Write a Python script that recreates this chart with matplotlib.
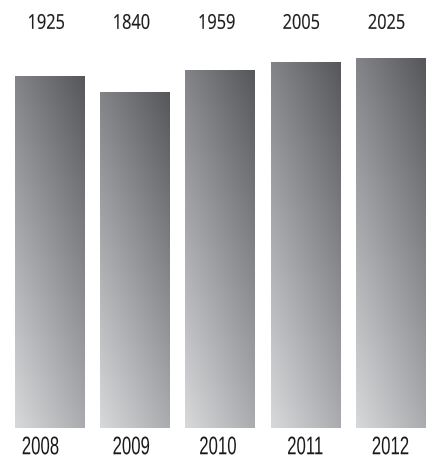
import numpy as np
import matplotlib
matplotlib.use("Agg")
from matplotlib import pyplot as plt
from matplotlib.textpath import TextPath
from matplotlib.patches import PathPatch
from matplotlib.font_manager import FontProperties
from matplotlib.transforms import Affine2D

years = ["2008", "2009", "2010", "2011", "2012"]
values = [1925, 1840, 1959, 2005, 2025]

light = np.array([216, 217, 219]) / 255.0
dark = np.array([86, 87, 91]) / 255.0

W, H = 433, 462
fig = plt.figure(figsize=(W / 100, H / 100), dpi=100)
ax = fig.add_axes([6.9 / W, 34 / H, 426.2 / W, 428 / H])
ax.set_xlim(-0.5, 4.5)
ax.set_ylim(0, 428 / 0.1825)
ax.axis("off")

# diagonal gradient: light bottom-left, dark top-right
n = 200
u = np.linspace(0, 1, n)[None, :]
v = np.linspace(0, 1, n)[:, None]
s = 0.35 * u + 0.65 * v
grad = light + (dark - light) * s[..., None]

width = 0.81
for i, val in enumerate(values):
    ax.imshow(grad, extent=[i - width / 2, i + width / 2, 0, val],
              origin="lower", aspect="auto", interpolation="bilinear", zorder=2)
ax.set_xlim(-0.5, 4.5)
ax.set_ylim(0, 428 / 0.1825)

# overlay in pixel units for condensed labels
ov = fig.add_axes([0, 0, 1, 1])
ov.set_xlim(0, W)
ov.set_ylim(0, H)
ov.axis("off")
ov.patch.set_alpha(0)


def label(text, xc, yc, h, sx, family, lw=0):
    prop = FontProperties(family=family)
    ref = TextPath((0, 0), "0123456789", size=100, prop=prop).get_extents()
    size = 100 * h / ref.height
    p = TextPath((0, 0), text, size=size, prop=prop)
    e = p.get_extents()
    tr = (Affine2D().translate(-(e.x0 + e.x1) / 2, -(e.y0 + e.y1) / 2)
          .scale(sx, 1).translate(xc, yc))
    ov.add_patch(PathPatch(tr.transform_path(p), fc="#1a1a1a",
                           ec="#1a1a1a" if lw else "none", lw=lw))


top_nudge = [-3, -3, -3, -4, -4]
bottom_nudge = [-9, -3.5, -2, 0, 0]
for i, (yr, val) in enumerate(zip(years, values)):
    xc = ax.transData.transform((i, 0))[0] * W / fig.bbox.width
    label(str(val), xc + top_nudge[i], H - 21.5, 15, 0.8, "Open Sans", lw=0.12)
    label(yr, xc + bottom_nudge[i], H - 445.5, 18, 0.66, "Liberation Sans")

fig.savefig("out.png", dpi=100)
